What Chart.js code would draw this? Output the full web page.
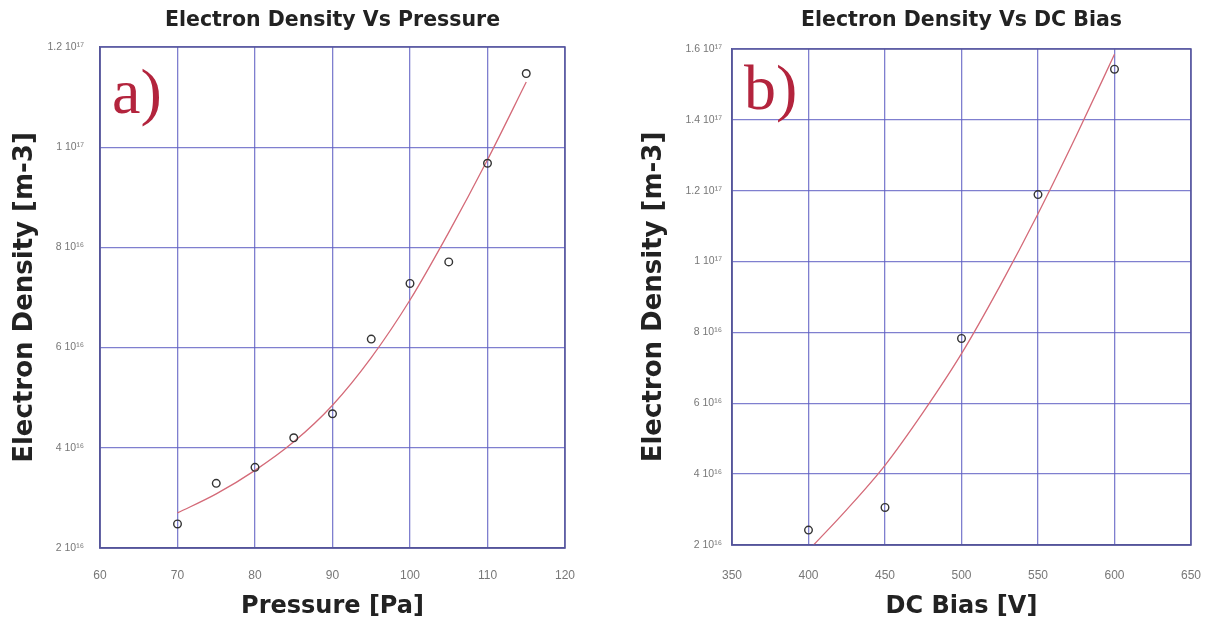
<!DOCTYPE html>
<html>
<head>
<meta charset="utf-8">
<script src="https://cdn.jsdelivr.net/npm/chart.js@4.4.1/dist/chart.umd.min.js"></script>
<style>
    body { margin: 0; background: #fff; }
    .panel { position: absolute; top: 0; width: 604px; height: 624px; }
</style>
</head>
<body>
<div class="panel" style="left:0"><canvas id="graficoPresion" width="604" height="624"></canvas></div>
<div class="panel" style="left:604px"><canvas id="graficoBias" width="604" height="624"></canvas></div>
<script>
// electron density values are in units of 1e16 m-3
const pressure = [70, 75, 80, 85, 90, 95, 100, 105, 110, 115];
const densityVsPressure = [2.48, 3.29, 3.61, 4.2, 4.68, 6.17, 7.28, 7.71, 9.68, 11.47];
const pressureFitX = [70, 75, 80, 85, 90, 95, 100, 105, 110, 115];
const pressureFitY = [2.70, 3.08, 3.55, 4.12, 4.85, 5.80, 6.95, 8.30, 9.75, 11.3];

const dcBias = [400, 450, 500, 550, 600];
const densityVsBias = [2.42, 3.06, 7.83, 11.89, 15.43];
const biasFitX = [400, 425, 450, 475, 500, 525, 550, 575, 600];
const biasFitY = [1.85, 3.0, 4.25, 5.75, 7.4, 9.3, 11.35, 13.55, 15.85];

const leftYLabels = ["2 10¹⁶", "4 10¹⁶", "6 10¹⁶", "8 10¹⁶", "1 10¹⁷", "1.2 10¹⁷"];
const rightYLabels = ["2 10¹⁶", "4 10¹⁶", "6 10¹⁶", "8 10¹⁶", "1 10¹⁷", "1.2 10¹⁷", "1.4 10¹⁷", "1.6 10¹⁷"];

const gridColor = "rgba(95, 95, 195, 0.8)";
const frameColor = "#55559a";
const fuenteTitulo = "'DejaVu Sans', Verdana, sans-serif";

function pares(xs, ys) {
    return xs.map((x, i) => ({ x: x, y: ys[i] }));
}

// title above the plot area and the red panel letter inside it
const decoracion = {
    id: "decoracion",
    afterDraw(chart, args, opts) {
        let ctx = chart.ctx;
        let a = chart.chartArea;
        ctx.save();
        ctx.strokeStyle = frameColor;
        ctx.lineWidth = 1.5;
        ctx.strokeRect(a.left, a.top, a.right - a.left, a.bottom - a.top);
        ctx.fillStyle = "#222";
        ctx.font = "bold 20.5px " + fuenteTitulo;
        ctx.textAlign = "center";
        ctx.textBaseline = "middle";
        ctx.fillText(opts.titulo, (a.left + a.right) / 2, 21);
        ctx.fillStyle = "#b3243d";
        ctx.font = "64px 'Liberation Serif', 'Times New Roman', serif";
        ctx.textAlign = "left";
        ctx.textBaseline = "alphabetic";
        ctx.fillText(opts.letra, a.left + 12, a.top + opts.base);
        ctx.restore();
    }
};

function sinDesborde(s) {
    s.paddingLeft = 0;
    s.paddingRight = 0;
    s.paddingTop = 0;
    s.paddingBottom = 0;
}

function crearGrafico(id, cfg) {
    let ctx = document.getElementById(id).getContext("2d");
    return new Chart(ctx, {
        type: "scatter",
        data: {
            datasets: [{
                label: "medido",
                data: pares(cfg.xs, cfg.ys),
                showLine: false,
                pointStyle: "circle",
                pointRadius: 3.8,
                pointBorderWidth: 1.4,
                pointBorderColor: "#333",
                pointBackgroundColor: "rgba(255,255,255,0)"
            }, {
                label: "ajuste",
                data: pares(cfg.fitX, cfg.fitY),
                showLine: true,
                pointRadius: 0,
                borderColor: "#d46a78",
                borderWidth: 1.3,
                cubicInterpolationMode: "monotone",
                fill: false
            }]
        },
        options: {
            responsive: false,
            animation: false,
            devicePixelRatio: 1,
            layout: { padding: { left: 0, right: cfg.padRight, top: cfg.top, bottom: 0 } },
            plugins: {
                legend: { display: false },
                tooltip: { enabled: false },
                decoracion: { titulo: cfg.titulo, letra: cfg.letra, base: cfg.base }
            },
            scales: {
                x: {
                    type: "linear",
                    min: cfg.xMin, max: cfg.xMax,
                    ticks: { stepSize: cfg.xStep, padding: cfg.xTickPad, color: "#777", font: { size: 12, family: "'Liberation Sans', Arial" } },
                    grid: { color: gridColor, lineWidth: 1.3, drawTicks: false },
                    border: { color: frameColor, width: 1.5 },
                    title: { display: true, text: cfg.xTitulo, color: "#222", padding: { top: 0, bottom: 3 }, font: { size: 24, weight: "bold", family: fuenteTitulo } },
                    afterFit: s => { s.height = cfg.xAltura; sinDesborde(s); }
                },
                y: {
                    min: 2, max: cfg.yMax,
                    ticks: {
                        stepSize: 2, padding: cfg.yTickPad, color: "#777",
                        font: { size: 10.5, family: "'Liberation Sans', Arial" },
                        callback: (v, i) => cfg.yLabels[i]
                    },
                    grid: { color: gridColor, lineWidth: 1.3, drawTicks: false },
                    border: { color: frameColor, width: 1.5 },
                    title: { display: true, text: "Electron Density [m-3]", color: "#222", padding: { top: cfg.yTitlePad, bottom: 0 }, font: { size: 26, weight: "bold", family: fuenteTitulo } },
                    afterFit: s => { s.width = cfg.yAncho; sinDesborde(s); }
                }
            }
        },
        plugins: [decoracion]
    });
}

crearGrafico("graficoPresion", {
    xs: pressure, ys: densityVsPressure, fitX: pressureFitX, fitY: pressureFitY,
    xMin: 60, xMax: 120, xStep: 10, yMax: 12, yLabels: leftYLabels,
    titulo: "Electron Density Vs Pressure", letra: "a)", base: 66,
    xTitulo: "Pressure [Pa]",
    top: 47, padRight: 39, xAltura: 76, yAncho: 100,
    xTickPad: 20, yTickPad: 16, yTitlePad: 10
});

crearGrafico("graficoBias", {
    xs: dcBias, ys: densityVsBias, fitX: biasFitX, fitY: biasFitY,
    xMin: 350, xMax: 650, xStep: 50, yMax: 16, yLabels: rightYLabels,
    titulo: "Electron Density Vs DC Bias", letra: "b)", base: 60,
    xTitulo: "DC Bias [V]",
    top: 49, padRight: 17, xAltura: 79, yAncho: 128,
    xTickPad: 23, yTickPad: 10, yTitlePad: 35
});
</script>
</body>
</html>
